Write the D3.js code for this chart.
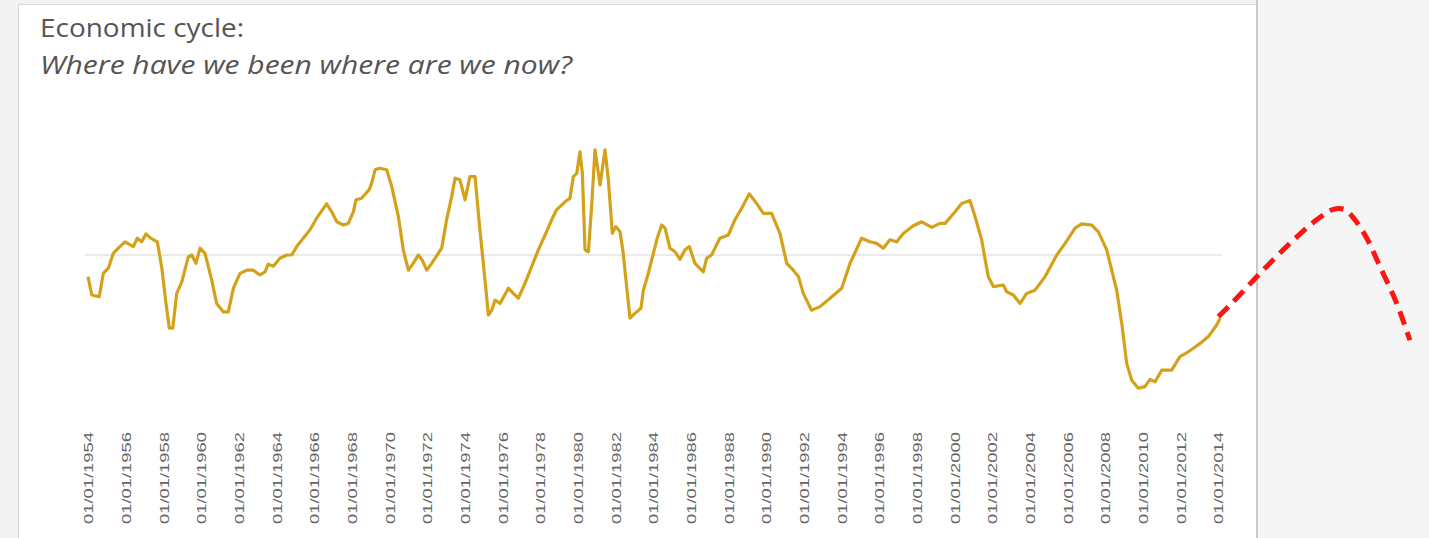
<!DOCTYPE html>
<html>
<head>
<meta charset="utf-8">
<script src="https://cdn.jsdelivr.net/npm/d3@7/dist/d3.min.js"></script>
<style>
  html, body { margin: 0; padding: 0; background: #f3f3f3; }
  svg { display: block; }
</style>
</head>
<body>
<svg id="chart" width="1429" height="538"></svg>
<script>
// ---- Data ----
const titleText = "Economic cycle:";
const subtitleText = "Where have we been where are we now?";

const tickYears = [1954,1956,1958,1960,1962,1964,1966,1968,1970,1972,1974,1976,1978,1980,1982,1984,1986,1988,1990,1992,1994,1996,1998,2000,2002,2004,2006,2008,2010,2012,2014];
const tickLabels = tickYears.map(y => "01/01/" + y);

// cycle indicator: decimal year and value (relative to trend, 0 = trend)
const cycleYears = [
  1954.00,1954.20,1954.46,1954.60,1954.81,1955.08,1955.34,1955.61,1955.96,1956.41,
  1956.62,1956.85,1957.08,1957.33,1957.68,1957.91,1958.14,1958.32,1958.50,1958.71,
  1958.98,1959.33,1959.51,1959.73,1959.95,1960.21,1960.57,1960.83,1961.18,1961.45,
  1961.72,1962.07,1962.43,1962.78,1963.13,1963.40,1963.57,1963.84,1964.19,1964.55,
  1964.82,1965.08,1965.43,1965.79,1966.14,1966.67,1966.94,1967.21,1967.56,1967.82,
  1968.09,1968.23,1968.53,1968.94,1969.06,1969.24,1969.50,1969.86,1970.13,1970.48,
  1970.74,1971.01,1971.27,1971.54,1971.75,1971.98,1972.25,1972.78,1973.04,1973.31,
  1973.49,1973.75,1974.02,1974.28,1974.55,1974.81,1975.08,1975.26,1975.44,1975.61,
  1975.88,1976.32,1976.58,1976.85,1977.20,1977.56,1977.91,1978.27,1978.62,1978.88,
  1979.33,1979.59,1979.77,1979.95,1980.12,1980.25,1980.39,1980.57,1980.74,1980.92,
  1981.19,1981.45,1981.63,1981.84,1982.02,1982.25,1982.42,1982.60,1982.78,1983.04,
  1983.36,1983.49,1983.75,1984.11,1984.20,1984.46,1984.64,1984.90,1985.17,1985.43,
  1985.70,1985.93,1986.23,1986.67,1986.85,1987.11,1987.55,1988.00,1988.35,1988.71,
  1989.11,1989.50,1989.86,1990.30,1990.74,1991.10,1991.45,1991.72,1991.98,1992.42,
  1992.87,1993.40,1994.02,1994.46,1995.08,1995.52,1995.88,1996.23,1996.58,1996.94,
  1997.29,1997.82,1998.27,1998.80,1999.24,1999.51,2000.04,2000.39,2000.83,2001.10,
  2001.45,2001.80,2002.07,2002.60,2002.78,2003.13,2003.49,2003.84,2004.28,2004.82,
  2005.44,2005.88,2006.41,2006.76,2007.29,2007.65,2008.09,2008.62,2008.89,2009.15,
  2009.42,2009.77,2010.12,2010.39,2010.66,2011.01,2011.54,2011.98,2012.42,2012.69,
  2013.05,2013.49,2013.93,2014.11
];
const cycleValues = [
  -0.54,-1.00,-1.03,-1.04,-0.46,-0.33,0.04,0.17,0.33,0.21,
  0.42,0.33,0.53,0.42,0.33,-0.29,-1.21,-1.83,-1.83,-0.96,
  -0.67,-0.04,0.00,-0.21,0.17,0.04,-0.63,-1.21,-1.42,-1.42,
  -0.83,-0.46,-0.38,-0.38,-0.50,-0.42,-0.23,-0.28,-0.08,0.00,
  0.00,0.21,0.42,0.63,0.92,1.28,1.08,0.83,0.75,0.79,
  1.08,1.38,1.42,1.64,1.79,2.13,2.17,2.13,1.71,0.96,
  0.13,-0.38,-0.21,0.00,-0.13,-0.38,-0.21,0.17,0.88,1.46,
  1.92,1.88,1.38,1.96,1.96,0.63,-0.63,-1.50,-1.38,-1.13,
  -1.21,-0.83,-0.96,-1.08,-0.71,-0.29,0.13,0.50,0.88,1.13,
  1.33,1.42,1.96,2.04,2.58,2.04,0.13,0.08,1.21,2.63,
  1.75,2.63,1.88,0.54,0.71,0.58,0.04,-0.79,-1.58,-1.46,
  -1.33,-0.88,-0.46,0.21,0.38,0.75,0.67,0.17,0.08,-0.11,
  0.13,0.21,-0.21,-0.42,-0.08,0.00,0.42,0.50,0.88,1.17,
  1.53,1.29,1.04,1.04,0.54,-0.21,-0.38,-0.54,-0.96,-1.38,
  -1.29,-1.08,-0.83,-0.21,0.42,0.33,0.29,0.17,0.38,0.33,
  0.54,0.73,0.83,0.69,0.79,0.79,1.08,1.29,1.36,0.96,
  0.38,-0.54,-0.79,-0.75,-0.92,-1.00,-1.21,-0.96,-0.88,-0.54,
  0.00,0.29,0.67,0.78,0.75,0.58,0.13,-0.88,-1.71,-2.71,
  -3.13,-3.33,-3.29,-3.11,-3.17,-2.88,-2.88,-2.54,-2.42,-2.33,
  -2.21,-2.04,-1.75,-1.58
];

// projected continuation (red dashed)
const forecastYears  = [2014.02, 2014.64, 2016.23, 2017.82, 2019.24, 2020.12, 2020.74, 2021.27, 2021.90, 2022.60, 2023.49, 2024.19];
const forecastValues = [-1.54, -1.25, -0.46, 0.29, 0.88, 1.14, 1.13, 0.88, 0.42, -0.29, -1.21, -2.13];

// ---- Drawing ----
const svg = d3.select("#chart");
const W = 1429, H = 538;

// backgrounds
svg.append("rect").attr("x", 0).attr("y", 0).attr("width", W).attr("height", H).attr("fill", "#f3f3f3");
svg.append("rect").attr("x", 18.5).attr("y", 4.5).attr("width", 1238).attr("height", H)
  .attr("fill", "#ffffff").attr("stroke", "#d6d6d6").attr("stroke-width", 1);
svg.append("rect").attr("x", 1258).attr("y", 0).attr("width", W - 1258).attr("height", H).attr("fill", "#f5f5f5");
svg.append("line").attr("x1", 1257).attr("x2", 1257).attr("y1", 0).attr("y2", H)
  .attr("stroke", "#c9c9c9").attr("stroke-width", 2);

// titles
svg.append("text").attr("x", 40).attr("y", 37)
  .attr("font-family", "'Open Sans', sans-serif").attr("font-size", 25)
  .attr("fill", "#555555")
  .attr("textLength", 204).attr("lengthAdjust", "spacingAndGlyphs")
  .text(titleText);
svg.append("text").attr("x", 40).attr("y", 74)
  .attr("font-family", "'Open Sans', sans-serif").attr("font-size", 25)
  .attr("font-style", "italic")
  .attr("fill", "#555555")
  .attr("textLength", 532).attr("lengthAdjust", "spacingAndGlyphs")
  .text(subtitleText);

// scales
const x = d3.scaleLinear().domain([1954, 2014]).range([88, 1218]);
const y = d3.scaleLinear().domain([-3.5, 3]).range([395, 135]);

// zero (trend) line
svg.append("line")
  .attr("x1", x(1954) - 3).attr("x2", x(2014) + 4)
  .attr("y1", y(0)).attr("y2", y(0))
  .attr("stroke", "#e3e3e3").attr("stroke-width", 1.5);

// x axis labels (rotated)
const axis = d3.axisBottom(x)
  .tickValues(tickYears)
  .tickFormat((d, i) => tickLabels[i])
  .tickSize(0);
const gx = svg.append("g").attr("transform", "translate(0,430)").call(axis);
gx.select(".domain").remove();
gx.selectAll("text")
  .attr("transform", "rotate(-90)")
  .attr("text-anchor", "end")
  .attr("x", -2)
  .attr("y", 0)
  .attr("dy", "0.35em")
  .attr("font-family", "'Liberation Sans', Arial, sans-serif")
  .attr("font-size", 13.5)
  .attr("fill", "#666666")
  .attr("textLength", 92).attr("lengthAdjust", "spacingAndGlyphs");

// main cycle line
const cycle = cycleYears.map((yr, i) => ({ yr, v: cycleValues[i] }));
const line = d3.line().x(d => x(d.yr)).y(d => y(d.v));
svg.append("path").datum(cycle)
  .attr("d", line)
  .attr("fill", "none")
  .attr("stroke", "#d4a21a")
  .attr("stroke-width", 3.2)
  .attr("stroke-linejoin", "round");

// forecast dashed line
const fc = forecastYears.map((yr, i) => ({ yr, v: forecastValues[i] }));
const fline = d3.line().x(d => x(d.yr)).y(d => y(d.v)).curve(d3.curveCatmullRom.alpha(0.5));
svg.append("path").datum(fc)
  .attr("d", fline)
  .attr("fill", "none")
  .attr("stroke", "#ff1414")
  .attr("stroke-width", 5)
  .attr("stroke-dasharray", "14,8");
</script>
</body>
</html>
